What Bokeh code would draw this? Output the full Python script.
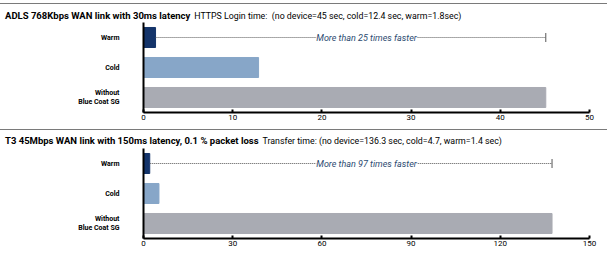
from bokeh.plotting import figure
from bokeh.layouts import column
from bokeh.models import ColumnDataSource, FactorRange, Range1d, FixedTicker, Div
from bokeh.core.properties import value
from bokeh.embed import file_html
from bokeh.resources import INLINE

# ---------------- data ----------------
categories = ["Warm", "Cold", "\u00a0" * 9 + "Without\nBlue Coat SG"]
colors = ["#14346a", "#87a6c8", "#a9abb3"]

title1_bold = "ADLS 768Kbps WAN link with 30ms latency"
title1_rest = "HTTPS Login time:  (no device=45 sec, cold=12.4 sec, warm=1.8sec)"
values1 = [1.35, 12.9, 45.1]
ticks1 = [0, 10, 20, 30, 40, 50]
note1 = "More than 25 times faster"

title2_bold = "T3 45Mbps WAN link with 150ms latency, 0.1 % packet loss"
title2_rest = "Transfer time: (no device=136.3 sec, cold=4.7, warm=1.4 sec)"
values2 = [2.1, 5.2, 137.4]
ticks2 = [0, 30, 60, 90, 120, 150]
note2 = "More than 97 times faster"

FONT = "Roboto"
LEFT = 143
RULE = "#7a7a7a"


def header(bold, rest, height, rule_top, text_top):
    html = (
        f'<div style="position:relative;width:613px;height:{height}px;margin:0;padding:0;">'
        f'<div style="position:absolute;left:0;top:{rule_top}px;width:607px;height:0;'
        f'border-top:1px solid {RULE};"></div>'
        f'<div style="position:absolute;left:5px;top:{text_top}px;font-family:{FONT};'
        f'line-height:11px;white-space:pre;color:black;">'
        f'<span style="font-size:9.5px;font-weight:bold;">{bold}</span>'
        f'<span style="font-size:8.8px;margin-left:4px;">{rest}</span>'
        '</div></div>'
    )
    return Div(text=html, width=613, height=height, margin=(0, 0, 0, 0))


def footer(height):
    html = (f'<div style="position:relative;width:613px;height:{height}px;">'
            f'<div style="position:absolute;left:0;top:0;width:607px;height:0;'
            f'border-top:1px solid {RULE};"></div></div>')
    return Div(text=html, width=613, height=height, margin=(0, 0, 0, 0))


def make_chart(vals, ticks, note, height, border_bottom):
    factors = list(reversed(categories))
    p = figure(width=613, height=height, y_range=FactorRange(*factors),
               x_range=Range1d(ticks[0], ticks[-1]),
               output_backend="svg", toolbar_location=None,
               min_border_left=LEFT, min_border_right=24,
               min_border_top=0, min_border_bottom=border_bottom)
    p.outline_line_color = None
    p.xgrid.visible = False
    p.ygrid.visible = False

    src = ColumnDataSource(dict(cat=categories, val=vals, color=colors))
    p.hbar(y="cat", right="val", left=0, height=0.667, color="color", source=src)

    # dotted comparison line from warm bar to no-device bar end
    p.segment(x0=[vals[0]], y0=[categories[0]], x1=[vals[2]], y1=[categories[0]],
              line_color="#555555", line_width=1, line_dash="1 1")
    p.scatter(x=[vals[2]], y=[categories[0]], marker="dash", angle=1.5708,
              size=9, line_color="#555555", line_width=1)
    p.text(x=[(ticks[0] + ticks[-1]) / 2], y=[categories[0]], text=[note],
           text_align="center", text_baseline="middle",
           text_font=value(FONT), text_font_size="9px", text_font_style="italic",
           text_color="#2b4a70", background_fill_color="white")

    # axes
    p.xaxis.ticker = FixedTicker(ticks=ticks)
    p.xaxis.axis_line_width = 2
    p.xaxis.axis_line_color = "black"
    p.xaxis.major_tick_in = 3
    p.xaxis.major_tick_out = 0
    p.xaxis.major_tick_line_width = 2
    p.xaxis.minor_tick_line_color = None
    p.xaxis.major_label_standoff = 2
    p.xaxis.major_label_text_font = FONT
    p.xaxis.major_label_text_font_size = "8px"
    p.xaxis.major_label_text_color = "black"

    p.yaxis.axis_line_width = 2
    p.yaxis.axis_line_color = "black"
    p.yaxis.major_tick_line_color = None
    p.yaxis.minor_tick_line_color = None
    p.yaxis.major_label_standoff = 18
    p.yaxis.major_label_text_font = FONT
    p.yaxis.major_label_text_font_size = "7px"
    p.yaxis.major_label_text_font_style = "bold"
    p.yaxis.major_label_text_color = "black"
    return p


h1 = header(title1_bold, title1_rest, 22, 3, 10)
p1 = make_chart(values1, ticks1, note1, 104, 14)
h2 = header(title2_bold, title2_rest, 22, 3, 9)
p2 = make_chart(values2, ticks2, note2, 106, 16)
f2 = footer(5)

layout = column(h1, p1, h2, p2, f2, spacing=0)
open("out.html", "w").write(file_html(layout, INLINE))
